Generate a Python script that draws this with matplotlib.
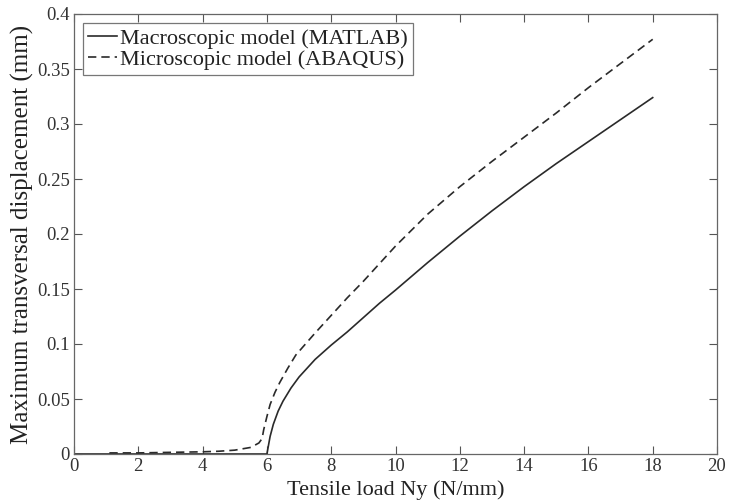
import matplotlib
matplotlib.use("Agg")
import matplotlib.pyplot as plt

# Data
macro_x = [0, 1, 2, 3, 4, 5, 6.0, 6.05, 6.1, 6.2, 6.35, 6.5, 6.75, 7.0, 7.5, 8, 8.5, 9,
           9.5, 10, 11, 12, 13, 14, 15, 16, 17, 18]
macro_y = [0, 0, 0, 0, 0, 0, 0, 0.008, 0.016, 0.027, 0.039, 0.048, 0.060, 0.070, 0.086,
           0.099, 0.111, 0.124, 0.137, 0.149, 0.174, 0.198, 0.221, 0.243, 0.264, 0.284,
           0.304, 0.324]

micro_x = [1.1, 2, 3, 4, 4.5, 5, 5.5, 5.75, 5.85, 5.9, 6.0, 6.1, 6.25, 6.4, 6.65, 6.9,
           7.5, 8, 8.5, 9, 9.5, 10, 11, 12, 13, 14, 15, 16, 17, 18]
micro_y = [0.001, 0.001, 0.0015, 0.002, 0.0025, 0.0035, 0.006, 0.010, 0.014, 0.022,
           0.034, 0.045, 0.056, 0.065, 0.078, 0.090, 0.110, 0.126, 0.142, 0.157, 0.173,
           0.189, 0.218, 0.243, 0.266, 0.288, 0.31, 0.333, 0.355, 0.377]

x_ticks = [0, 2, 4, 6, 8, 10, 12, 14, 16, 18, 20]
y_ticks = [0, 0.05, 0.1, 0.15, 0.2, 0.25, 0.3, 0.35, 0.4]
y_tick_labels = ["0", "0.05", "0.1", "0.15", "0.2", "0.25", "0.3", "0.35", "0.4"]

plt.rcParams['font.family'] = ['Liberation Serif', 'DejaVu Serif']

fig = plt.figure(figsize=(7.37, 5.03), dpi=100)
ax = fig.add_axes([74 / 737, 49 / 503, 643 / 737, 440 / 503])

line_color = '#2a2a2a'
ax.plot(macro_x, macro_y, color=line_color, lw=1.2, ls='-',
        label='Macroscopic model (MATLAB)')
ax.plot(micro_x, micro_y, color=line_color, lw=1.2, ls=(0, (5, 3)),
        label='Microscopic model (ABAQUS)')

ax.set_xlim(0, 20)
ax.set_ylim(0, 0.4)
ax.set_xticks(x_ticks)
ax.set_xticklabels([str(t) for t in x_ticks])
ax.set_yticks(y_ticks)
ax.set_yticklabels(y_tick_labels)

ax.tick_params(direction='in', top=True, right=True, length=6, width=0.8,
               labelsize=13.5, colors='#555555', labelcolor='#333333', pad=3)
for s in ax.spines.values():
    s.set_color('#666666')
    s.set_linewidth(0.9)

ax.set_xlabel('Tensile load Ny (N/mm)', fontsize=16, color='#222222', labelpad=4)
ax.set_ylabel('Maximum transversal displacement (mm)', fontsize=18, color='#222222',
              labelpad=2)

leg = ax.legend(loc='upper left', fontsize=16, frameon=True, fancybox=False,
                handlelength=1.3, handletextpad=0.1, borderpad=0.25, labelspacing=0.0,
                borderaxespad=0.4)
leg.get_frame().set_edgecolor('#555555')
leg.get_frame().set_linewidth(0.9)
for t in leg.get_texts():
    t.set_color('#222222')

fig.savefig('out.png', dpi=100)
